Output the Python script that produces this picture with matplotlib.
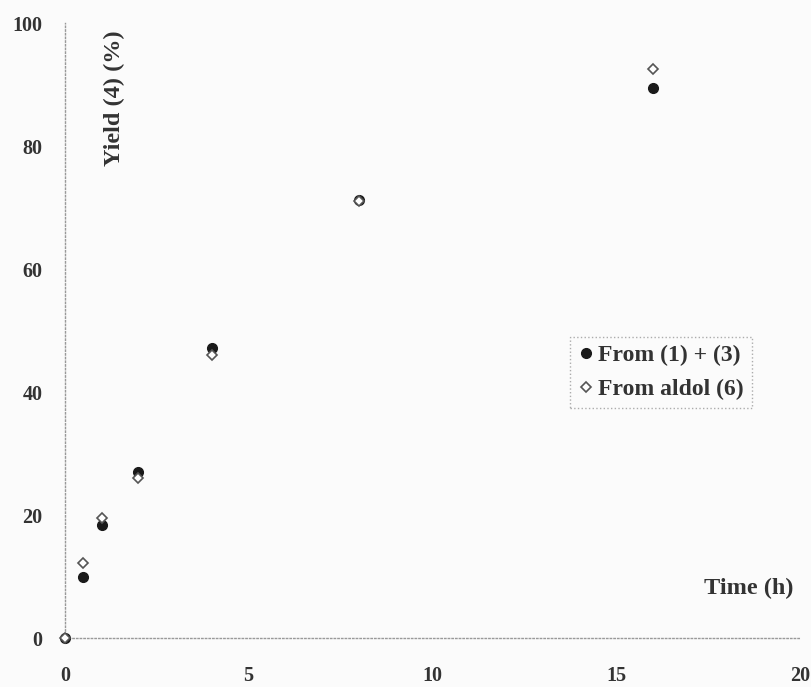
import matplotlib
matplotlib.use("Agg")
import matplotlib.pyplot as plt

time_h = [0, 0.5, 1, 2, 4, 8, 16]
yield_from_1_3 = [0, 10, 18.3, 27, 47.2, 71.3, 89.4]
yield_from_aldol = [0, 12.2, 19.5, 26, 46, 71, 92.5]
xticks = [0, 5, 10, 15, 20]
yticks = [0, 20, 40, 60, 80, 100]

plt.rcParams['font.family'] = ['Liberation Serif', 'DejaVu Serif']
plt.rcParams['font.weight'] = 'bold'

fig = plt.figure(figsize=(8.12, 6.87), dpi=100, facecolor='#fbfbfb')
ax = fig.add_axes([0.080, 0.0713, 0.905, 0.8952])
ax.set_facecolor('#fbfbfb')

ax.plot(time_h, yield_from_1_3, linestyle='none', marker='o', markersize=7,
        color='#1a1a1a', label='From (1) + (3)', zorder=3, clip_on=False)
ax.plot(time_h, yield_from_aldol, linestyle='none', marker='D', markersize=5,
        markerfacecolor='white', markeredgecolor='#555555', markeredgewidth=1.2,
        label='From aldol (6)', zorder=4, clip_on=False)

ax.set_xlim(0, 20)
ax.set_ylim(0, 100)
ax.set_xticks(xticks)
ax.set_yticks(yticks)
ax.tick_params(axis='both', length=0, labelsize=14.5, colors='#333333')
ax.tick_params(axis='y', pad=16)
ax.tick_params(axis='x', pad=20)

for s in ['top', 'right']:
    ax.spines[s].set_visible(False)
for s in ['left', 'bottom']:
    ax.spines[s].set_linestyle(':')
    ax.spines[s].set_color('#999999')
    ax.spines[s].set_linewidth(1.0)

ax.text(0.068, 0.988, 'Yield (4) (%)', transform=ax.transAxes, rotation=90,
        ha='center', va='top', fontsize=17.5, fontweight='bold', color='#333333')
ax.text(0.992, 0.081, 'Time (h)', transform=ax.transAxes,
        ha='right', va='center', fontsize=17.5, fontweight='bold', color='#333333')

leg = ax.legend(loc='upper left', bbox_to_anchor=(0.687, 0.490), frameon=True,
                fancybox=False, fontsize=17, handletextpad=0.15, borderpad=0.35,
                handlelength=0.7, labelspacing=0.5, borderaxespad=0)
frame = leg.get_frame()
frame.set_linestyle(':')
frame.set_edgecolor('#999999')
frame.set_facecolor('#fbfbfb')
for t in leg.get_texts():
    t.set_color('#333333')

fig.savefig('out.png', dpi=100, facecolor=fig.get_facecolor())
